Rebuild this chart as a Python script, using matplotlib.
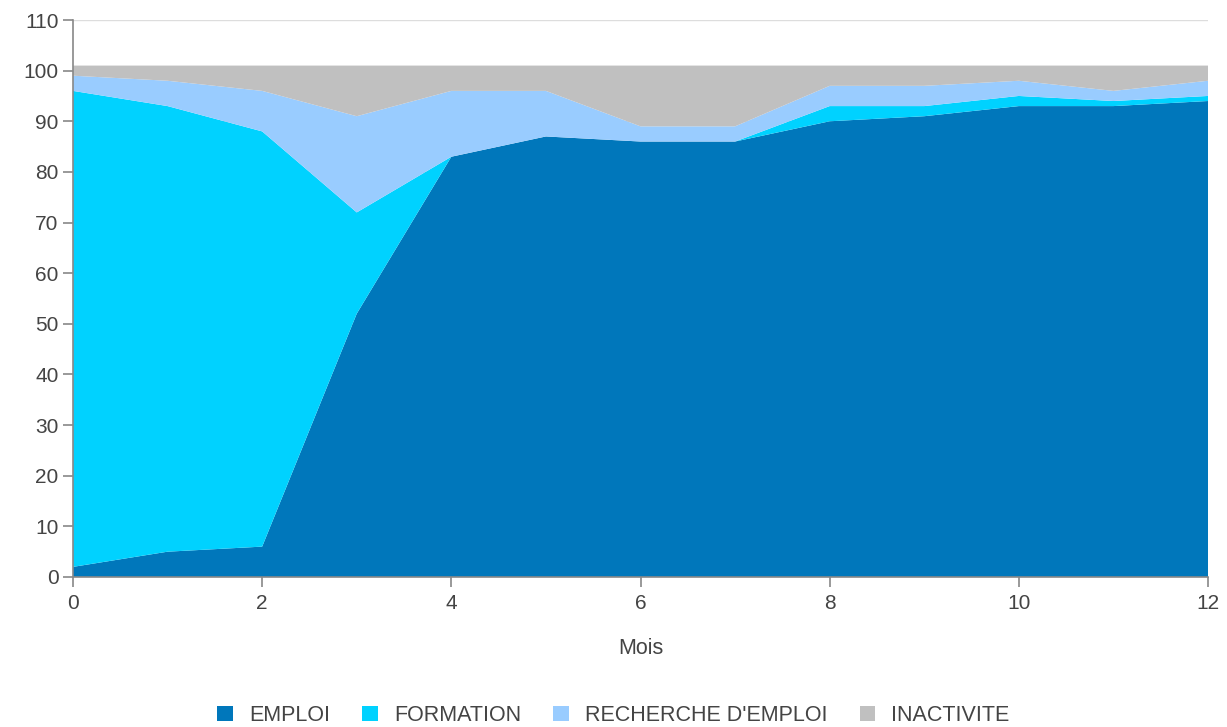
import matplotlib.pyplot as plt
from matplotlib.patches import Patch

mois = [0, 1, 2, 3, 4, 5, 6, 7, 8, 9, 10, 11, 12]
emploi = [2, 5, 6, 52, 83, 87, 86, 86, 90, 91, 93, 93, 94]
formation = [94, 88, 82, 20, 0, 0, 0, 0, 3, 2, 2, 1, 1]
recherche = [3, 5, 8, 19, 13, 9, 3, 3, 4, 4, 3, 2, 3]
inactivite = [2, 3, 5, 10, 5, 5, 12, 12, 4, 4, 3, 5, 3]

labels = ["EMPLOI", "FORMATION", "RECHERCHE D'EMPLOI", "INACTIVITE"]
couleurs = ["#0077bb", "#00d2ff", "#99ccff", "#c0c0c0"]

plt.rcParams['font.family'] = ['Liberation Sans', 'DejaVu Sans']
txt = "#444444"

fig = plt.figure(figsize=(12.27, 7.27), dpi=100)
ax = fig.add_axes([73 / 1227, 1 - 577 / 727, (1208 - 73) / 1227, (577 - 20) / 727])

ax.stackplot(mois, emploi, formation, recherche, inactivite,
             colors=couleurs, linewidth=0, zorder=2)

ax.set_xlim(0, 12)
ax.set_ylim(0, 110)
ax.set_yticks(range(0, 111, 10))
ax.set_xticks(range(0, 13, 2))
ax.yaxis.grid(True, color="#dddddd", linewidth=1, zorder=0)
ax.set_axisbelow(True)

for s in ["top", "right"]:
    ax.spines[s].set_visible(False)
for s in ["left", "bottom"]:
    ax.spines[s].set_color("#888888")
    ax.spines[s].set_linewidth(1.2)
ax.tick_params(axis="both", colors="#888888", labelcolor=txt, labelsize=15,
               length=7, width=1.2)
ax.tick_params(axis="x", pad=5)

ax.set_xlabel("Mois", fontsize=15.5, color=txt, labelpad=18)

handles = [Patch(facecolor=c, edgecolor="none") for c in couleurs]
fig.legend(handles, labels, loc="center", bbox_to_anchor=(0.5, 0.016), ncol=4,
           frameon=False, fontsize=15.5, labelcolor=txt, handlelength=0.72,
           handleheight=0.72, handletextpad=0.75, columnspacing=1.5)

fig.savefig("out.png", dpi=100)
